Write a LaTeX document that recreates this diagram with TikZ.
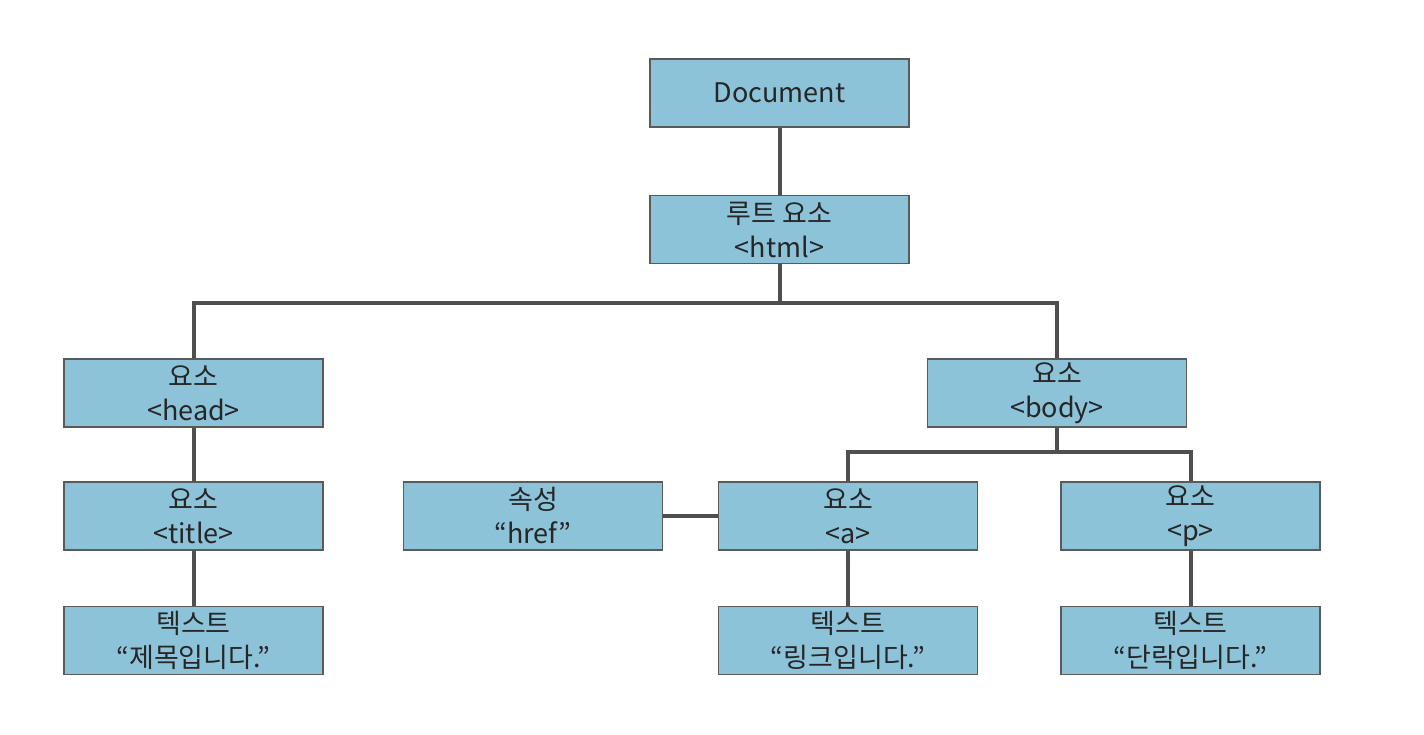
\documentclass[tikz,border=0pt]{standalone}
\usepackage{fontspec}
\setmainfont{Noto Sans CJK KR}
\definecolor{boxfill}{HTML}{8DC3D9}
\definecolor{boxline}{HTML}{5A5A5A}
\definecolor{conn}{HTML}{4F4F4F}
\begin{document}
\begin{tikzpicture}[x=1pt,y=-1pt,
  box/.style={draw=boxline,fill=boxfill,line width=1.2pt,minimum width=259pt,minimum height=68pt,
    inner sep=0pt,align=center,font=\fontsize{27}{34}\selectfont,text=black!85},
  link/.style={draw=conn,line width=4pt}]
\useasboundingbox (0,0) rectangle (1424,734);
\node[box] (doc) at (779.5,93) {Document};
\node[box] (root) at (779.5,229.5) {루트 요소\\<html>};
\node[box] (head) at (193.5,393) {요소\\<head>};
\node[box] (body) at (1057,393) {요소\\<body>};
\node[box] (title) at (193.5,516) {요소\\<title>};
\node[box] (attr) at (533,516) {속성\\“href”};
\node[box] (a) at (848,516) {요소\\<a>};
\node[box] (p) at (1190.5,516) {요소\\<p>};
\node[box] (t1) at (193.5,640.5) {텍스트\\“제목입니다.”};
\node[box] (t2) at (848,640.5) {텍스트\\“링크입니다.”};
\node[box] (t3) at (1190.5,640.5) {텍스트\\“단락입니다.”};
\coordinate (hb) at (779.5,303);
\coordinate (bb) at (1057,452);
\draw[link] (doc.south) -- (root.north);
\draw[link] (root.south) -- (hb);
\draw[link] (head.north) |- (hb) -| (body.north);
\draw[link] (head.south) -- (title.north);
\draw[link] (title.south) -- (t1.north);
\draw[link] (body.south) -- (bb);
\draw[link] (a.north) |- (bb) -| (p.north);
\draw[link] (attr.east) -- (a.west);
\draw[link] (a.south) -- (t2.north);
\draw[link] (p.south) -- (t3.north);
\end{tikzpicture}
\end{document}
